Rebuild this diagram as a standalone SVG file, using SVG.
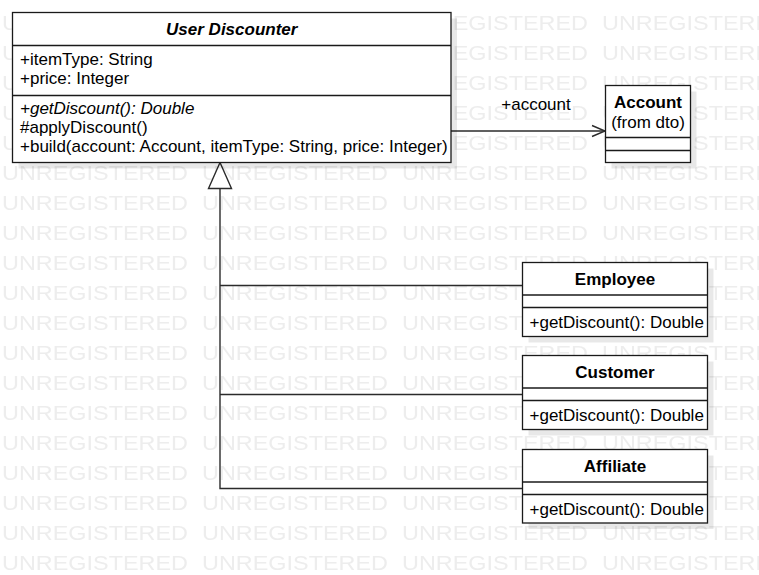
<svg xmlns="http://www.w3.org/2000/svg" width="759" height="575" viewBox="0 0 759 575">
  <style>
    .box { fill: #ffffff; stroke: #1a1a1a; stroke-width: 1.3; }
    .shadow { fill: #000000; opacity: 0.09; }
    .div { stroke: #1a1a1a; stroke-width: 1.3; fill: none; }
    .t { font-family: "Liberation Sans", Arial, sans-serif; font-size: 17px; fill: #000000; }
    .title { font-weight: bold; text-anchor: middle; }
    .it { font-style: italic; }
    .mid { text-anchor: middle; }
    .conn { stroke: #2b2b2b; stroke-width: 1.4; fill: none; }
    .wm { font-family: "Liberation Sans", Arial, sans-serif; font-size: 21px; fill: #ededed; }
  </style>
  <defs>
    <pattern id="wmPattern" patternUnits="userSpaceOnUse" x="2" y="5" width="200" height="30">
      <text class="wm" x="0" y="25" textLength="186" lengthAdjust="spacingAndGlyphs">UNREGISTERED</text>
    </pattern>
  </defs>

  <rect x="0" y="0" width="759" height="575" fill="#ffffff"/>
  <rect id="watermark" x="0" y="0" width="759" height="575" fill="url(#wmPattern)"/>

  <g id="connectors">
    <line class="conn" x1="451" y1="131" x2="605" y2="131"/>
    <polyline class="conn" points="592,125.5 605,131 592,136.5"/>
    <path class="conn" d="M220 188.5 V488.5 H522.5 M220 285.5 H522.5 M220 394.5 H522.5"/>
    <polygon points="220,162.5 208.5,188.5 231.5,188.5" fill="#ffffff" stroke="#2b2b2b" stroke-width="1.4"/>
    <text class="t mid" x="536" y="110">+account</text>
  </g>

  <g id="UserDiscounter">
    <rect class="shadow" x="18.5" y="18.5" width="438.5" height="150"/>
    <rect class="box" x="12.5" y="12.5" width="438.5" height="150"/>
    <line class="div" x1="12.5" y1="45.5" x2="451" y2="45.5"/>
    <line class="div" x1="12.5" y1="95.5" x2="451" y2="95.5"/>
    <text class="t title it" x="231.75" y="34.5">User Discounter</text>
    <text class="t" x="20" y="64.5">+itemType: String</text>
    <text class="t" x="20" y="83.5">+price: Integer</text>
    <text class="t it" x="20" y="113.5">+getDiscount(): Double</text>
    <text class="t" x="20" y="132.5">#applyDiscount()</text>
    <text class="t" x="20" y="151.5">+build(account: Account, itemType: String, price: Integer)</text>
  </g>

  <g id="Account">
    <rect class="shadow" x="611.5" y="91.5" width="85" height="77"/>
    <rect class="box" x="605.5" y="85.5" width="85" height="77"/>
    <line class="div" x1="605.5" y1="137.5" x2="690.5" y2="137.5"/>
    <line class="div" x1="605.5" y1="150.5" x2="690.5" y2="150.5"/>
    <text class="t title" x="648" y="108">Account</text>
    <text class="t mid" x="648" y="127.5">(from dto)</text>
  </g>

  <g id="Employee">
    <rect class="shadow" x="528.5" y="268.5" width="185" height="74"/>
    <rect class="box" x="522.5" y="262.5" width="185" height="74"/>
    <line class="div" x1="522.5" y1="295" x2="707.5" y2="295"/>
    <line class="div" x1="522.5" y1="307.5" x2="707.5" y2="307.5"/>
    <text class="t title" x="615" y="284.5">Employee</text>
    <text class="t" x="529.5" y="328">+getDiscount(): Double</text>
  </g>

  <g id="Customer">
    <rect class="shadow" x="528.5" y="361.5" width="185" height="74"/>
    <rect class="box" x="522.5" y="355.5" width="185" height="74"/>
    <line class="div" x1="522.5" y1="388" x2="707.5" y2="388"/>
    <line class="div" x1="522.5" y1="400.5" x2="707.5" y2="400.5"/>
    <text class="t title" x="615" y="377.5">Customer</text>
    <text class="t" x="529.5" y="421">+getDiscount(): Double</text>
  </g>

  <g id="Affiliate">
    <rect class="shadow" x="528.5" y="455.5" width="185" height="73.5"/>
    <rect class="box" x="522.5" y="449.5" width="185" height="73.5"/>
    <line class="div" x1="522.5" y1="482" x2="707.5" y2="482"/>
    <line class="div" x1="522.5" y1="494.5" x2="707.5" y2="494.5"/>
    <text class="t title" x="615" y="471.5">Affiliate</text>
    <text class="t" x="529.5" y="515">+getDiscount(): Double</text>
  </g>
</svg>
